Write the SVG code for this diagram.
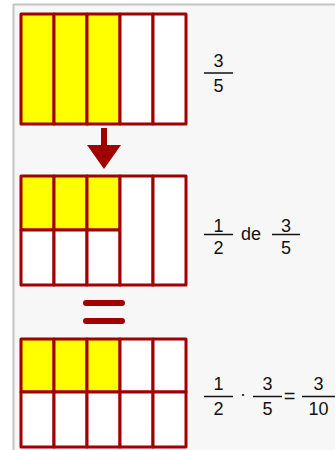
<svg xmlns="http://www.w3.org/2000/svg" width="335" height="450" viewBox="0 0 335 450">
<style>
.cell{stroke:#a00000;stroke-width:3;stroke-linejoin:round}
.y{fill:#ffff00}
.w{fill:#ffffff}
.t{font-family:"Liberation Sans",Arial,sans-serif;font-size:18px;fill:#111;text-anchor:middle}
.fl{stroke:#111;stroke-width:1.5}
.mark{stroke:#a00000;stroke-width:6;stroke-linecap:round}
</style>
<rect x="0" y="0" width="335" height="450" fill="#ffffff"/>
<rect x="14" y="5" width="321" height="445" fill="#f7f7f7"/>
<line x1="13.5" y1="4" x2="13.5" y2="450" stroke="#c4c4c4" stroke-width="2"/>
<line x1="13" y1="4.5" x2="335" y2="4.5" stroke="#c4c4c4" stroke-width="2"/>

<g id="grid1">
<rect class="cell y" x="21" y="14" width="33" height="110"/>
<rect class="cell y" x="54" y="14" width="33" height="110"/>
<rect class="cell y" x="87" y="14" width="33" height="110"/>
<rect class="cell w" x="120" y="14" width="33" height="110"/>
<rect class="cell w" x="153" y="14" width="33" height="110"/>
</g>

<g id="grid2">
<rect class="cell y" x="21" y="176" width="33" height="54"/>
<rect class="cell y" x="54" y="176" width="33" height="54"/>
<rect class="cell y" x="87" y="176" width="33" height="54"/>
<rect class="cell w" x="21" y="230" width="33" height="55"/>
<rect class="cell w" x="54" y="230" width="33" height="55"/>
<rect class="cell w" x="87" y="230" width="33" height="55"/>
<rect class="cell w" x="120" y="176" width="33" height="109"/>
<rect class="cell w" x="153" y="176" width="33" height="109"/>
</g>

<g id="grid3">
<rect class="cell y" x="21" y="339" width="33" height="53"/>
<rect class="cell y" x="54" y="339" width="33" height="53"/>
<rect class="cell y" x="87" y="339" width="33" height="53"/>
<rect class="cell w" x="120" y="339" width="33" height="53"/>
<rect class="cell w" x="153" y="339" width="33" height="53"/>
<rect class="cell w" x="21" y="392" width="33" height="55"/>
<rect class="cell w" x="54" y="392" width="33" height="55"/>
<rect class="cell w" x="87" y="392" width="33" height="55"/>
<rect class="cell w" x="120" y="392" width="33" height="55"/>
<rect class="cell w" x="153" y="392" width="33" height="55"/>
</g>

<g id="connectors">
<g id="arrow">
<rect x="101" y="128" width="6" height="18" fill="#a00000"/>
<polygon points="87,145 121,145 104,169" fill="#a00000"/>
</g>
<g id="equals">
<line class="mark" x1="86" y1="303" x2="122" y2="303"/>
<line class="mark" x1="86" y1="321" x2="122" y2="321"/>
</g>
</g>

<g id="label1">
<text class="t" x="218.5" y="67">3</text>
<line class="fl" x1="204" y1="73" x2="233" y2="73"/>
<text class="t" x="218.5" y="92">5</text>
</g>

<g id="label2">
<text class="t" x="218.5" y="232">1</text>
<line class="fl" x1="204" y1="234.5" x2="233" y2="234.5"/>
<text class="t" x="218.5" y="254">2</text>
<text class="t" x="251" y="240">de</text>
<text class="t" x="286" y="232">3</text>
<line class="fl" x1="272" y1="234.5" x2="300" y2="234.5"/>
<text class="t" x="286" y="254">5</text>
</g>

<g id="label3">
<text class="t" x="218.5" y="390">1</text>
<line class="fl" x1="204" y1="396.5" x2="233" y2="396.5"/>
<text class="t" x="218.5" y="415">2</text>
<text class="t" x="243" y="400">·</text>
<text class="t" x="267.5" y="390">3</text>
<line class="fl" x1="253" y1="396.5" x2="282" y2="396.5"/>
<text class="t" x="267.5" y="415">5</text>
<text class="t" x="289.5" y="403" style="font-size:20px">=</text>
<text class="t" x="318.5" y="390">3</text>
<line class="fl" x1="302" y1="396.5" x2="335" y2="396.5"/>
<text class="t" x="318.5" y="415">10</text>
</g>
</svg>
